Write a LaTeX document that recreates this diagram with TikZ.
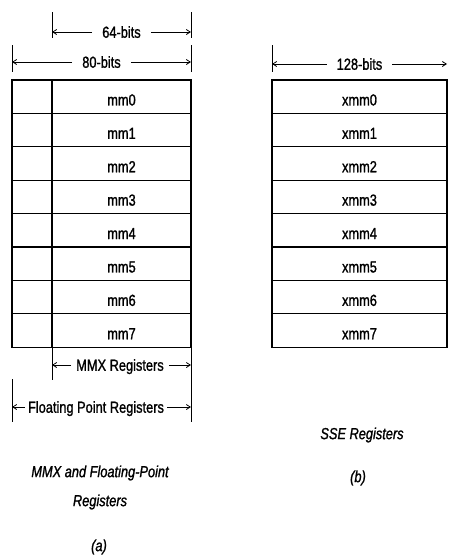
\documentclass[tikz,border=0pt]{standalone}
\usepackage{fontspec}
\setmainfont{Liberation Sans}[FakeStretch=0.8, FakeBold=1.2]
\usetikzlibrary{arrows.meta}

\begin{document}
\begin{tikzpicture}[x=1pt, y=-1pt,
  reg/.style={draw, line width=1.2pt, minimum height=33.4pt, inner sep=0pt,
    text height=17.5pt, text depth=0pt, font=\fontsize{16}{19}\selectfont},
  tag/.style={draw, line width=1.2pt, minimum width=40pt, minimum height=33.4pt, inner sep=0pt},
  dim/.style={inner sep=5pt, text height=11.5pt, text depth=0pt, font=\fontsize{16}{19}\selectfont},
  arr/.style={-{Straight Barb[length=4pt, width=5pt]}, line width=0.8pt},
  tick/.style={line width=0.8pt},
  capt/.style={font=\fontsize{16}{19}\selectfont\itshape}
]
\useasboundingbox (0,0) rectangle (448,557);

% register rows
\foreach \i in {0,...,7} {
  \node[tag] (t\i) at (32, 96.7+33.4*\i) {};
  \node[reg, minimum width=139pt] (mm\i) at (121.5, 96.7+33.4*\i) {mm\i};
  \node[reg, minimum width=175pt] (xmm\i) at (359.5, 96.7+33.4*\i) {xmm\i};
}

% ticks
\coordinate (l64) at (52,12);
\coordinate (r64) at (191,12);
\coordinate (l80) at (12,45);
\coordinate (r80) at (191,45);
\coordinate (l128) at (272,45);
\coordinate (r128) at (447,45);
\coordinate (lmmx) at (52,347);
\coordinate (rmmx) at (191,347);
\coordinate (lfp) at (12,379);
\draw[tick] (l64) -- ++(0,26);
\draw[tick] (r64) -- ++(0,26);
\draw[tick] (l80) -- ++(0,27);
\draw[tick] (r80) -- ++(0,27);
\draw[tick] (l128) -- ++(0,27);
\draw[tick] (lmmx) -- ++(0,33);
\draw[tick] (rmmx) -- ++(0,75);
\draw[tick] (lfp) -- ++(0,43);

% widths
\node[dim, inner sep=10pt] (b64) at (121.5,32) {64-bits};
\node[dim, inner sep=10pt] (b80) at (101.5,62) {80-bits};
\node[dim, inner sep=10pt] (b128) at (359.5,64) {128-bits};
\node[dim] (mmx) at (120,365) {MMX Registers};
\node[dim, inner sep=3pt] (fp) at (96,407) {Floating Point Registers};
\draw[arr] (b64.west) -- (b64.west -| l64);
\draw[arr] (b64.east) -- (b64.east -| r64);
\draw[arr] (b80.west) -- (b80.west -| l80);
\draw[arr] (b80.east) -- (b80.east -| r80);
\draw[arr] (b128.west) -- (b128.west -| l128);
\draw[arr] (b128.east) -- (b128.east -| r128);
\draw[arr] (mmx.west) -- (mmx.west -| lmmx);
\draw[arr] (mmx.east) -- (mmx.east -| rmmx);
\draw[arr] (fp.west) -- (fp.west -| lfp);
\draw[arr] (fp.east) -- (fp.east -| rmmx);

% captions
\node[capt] (ca1) at (100,473) {MMX and Floating-Point};
\node[capt] (ca2) at (100,502) {Registers};
\node[capt] (ca) at (99,547) {(a)};
\node[capt] (cb1) at (362,435) {SSE Registers};
\node[capt] (cb) at (358,478) {(b)};
\end{tikzpicture}
\end{document}
